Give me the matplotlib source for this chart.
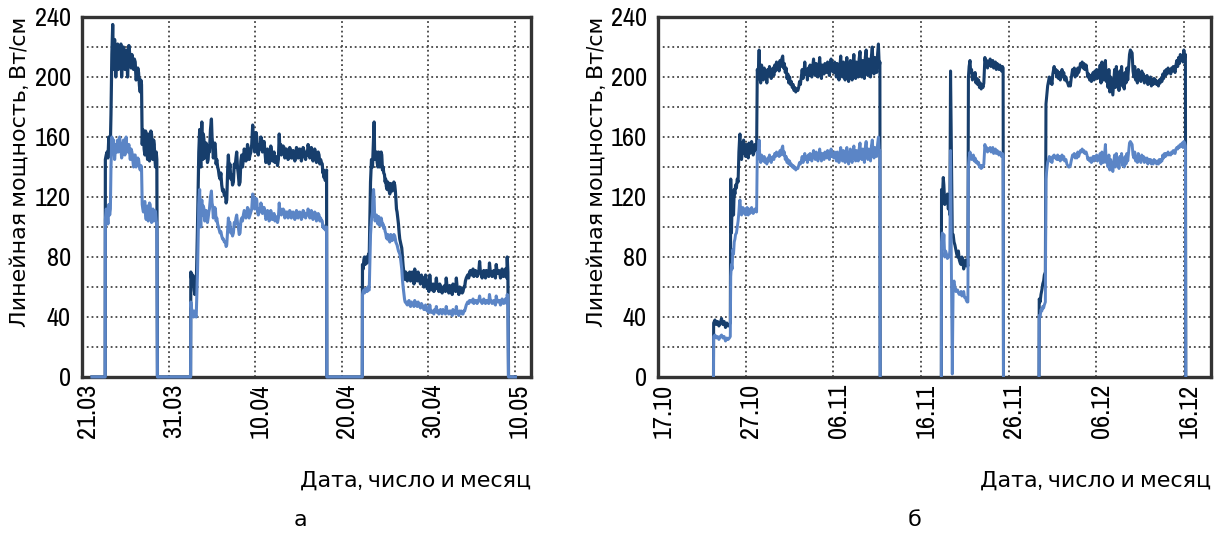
import numpy as np
import matplotlib
matplotlib.use('Agg')
import matplotlib.pyplot as plt
import matplotlib.font_manager as fm
import matplotlib.transforms as mtransforms
from matplotlib.ticker import MultipleLocator

# the reference uses a condensed sans; take a narrow face if one is installed
names = {f.name for f in fm.fontManager.ttflist}
narrow = [n for n in names if 'Narrow' in n or 'Condensed' in n]
if 'Liberation Sans Narrow' in names:
    family, tick_size, label_size = 'Liberation Sans Narrow', 20, 18
elif narrow:
    family, tick_size, label_size = sorted(narrow)[0], 19, 16
else:
    family, tick_size, label_size = 'Liberation Sans', 17, 16
plt.rcParams['font.family'] = [family, 'DejaVu Sans']
plt.rcParams['font.size'] = tick_size

# Days counted from the first tick (21.03 on the left chart, 17.10 on the right one)
left_ticks = [0, 10, 20, 30, 40, 50]
left_labels = ['21.03', '31.03', '10.04', '20.04', '30.04', '10.05']
right_ticks = [0, 10, 20, 30, 40, 50, 60]
right_labels = ['17.10', '27.10', '06.11', '16.11', '26.11', '06.12', '16.12']

# rows: (day, dark line W/cm, light line W/cm)
left_run1 = [
    (1.15, 0, 0), (2.68, 0, 0),
    (2.70, 145, 105), (2.80, 148, 112), (2.90, 150, 110), (3.00, 146, 102), (3.10, 160, 115),
    (3.20, 148, 108), (3.28, 156, 112), (3.35, 175, 140), (3.45, 215, 160), (3.55, 235, 150),
    (3.65, 205, 158), (3.77, 225, 145), (3.90, 200, 155), (4.04, 215, 150), (4.12, 222, 158),
    (4.20, 205, 150), (4.35, 218, 160), (4.50, 222, 152), (4.58, 200, 146), (4.65, 210, 148),
    (4.80, 220, 158), (4.96, 205, 148), (5.10, 218, 160), (5.20, 210, 152), (5.27, 200, 150),
    (5.42, 221, 155), (5.58, 212, 145), (5.68, 206, 152), (5.77, 215, 150), (5.96, 205, 140),
    (6.05, 212, 148), (6.15, 210, 148), (6.25, 198, 140), (6.35, 200, 142), (6.45, 206, 146),
    (6.54, 203, 145), (6.64, 194, 140), (6.73, 190, 138), (6.80, 198, 141), (6.88, 195, 140),
    (6.96, 155, 115), (7.03, 165, 112), (7.10, 162, 110), (7.18, 152, 116), (7.27, 148, 117),
    (7.35, 164, 108), (7.42, 160, 105), (7.50, 150, 112), (7.58, 145, 114), (7.65, 162, 104),
    (7.73, 158, 108), (7.80, 144, 116), (7.88, 150, 115), (7.96, 164, 106), (8.04, 162, 103),
    (8.12, 150, 110), (8.20, 145, 112), (8.28, 158, 104), (8.35, 155, 106), (8.42, 146, 111),
    (8.50, 140, 110), (8.58, 150, 104), (8.65, 145, 102), (8.72, 0, 0),
]
left_run2 = [
    (12.55, 0, 0),
    (12.58, 70, 50), (12.65, 66, 46), (12.73, 62, 44), (12.80, 68, 42), (12.90, 66, 40),
    (12.97, 58, 44), (13.04, 55, 42), (13.12, 60, 41), (13.20, 58, 40), (13.35, 100, 70),
    (13.50, 150, 115), (13.60, 165, 125), (13.66, 150, 108), (13.73, 140, 100), (13.80, 158, 112),
    (13.85, 170, 118), (13.90, 152, 110), (13.96, 145, 108), (14.03, 162, 114), (14.10, 158, 112),
    (14.18, 146, 104), (14.27, 148, 105), (14.35, 156, 111), (14.42, 152, 110), (14.50, 143, 103),
    (14.58, 145, 106), (14.66, 154, 110), (14.73, 150, 112), (14.85, 165, 120), (14.96, 172, 124),
    (15.03, 160, 116), (15.10, 155, 114), (15.18, 146, 106), (15.27, 150, 110), (15.35, 156, 113),
    (15.42, 152, 112), (15.50, 142, 104), (15.58, 145, 106), (15.68, 140, 102), (15.77, 138, 100),
    (15.86, 134, 98), (15.96, 132, 96), (16.05, 136, 97), (16.15, 128, 94), (16.25, 124, 92),
    (16.35, 125, 92), (16.45, 121, 90), (16.58, 122, 90), (16.66, 116, 87), (16.73, 118, 88),
    (16.85, 140, 100), (16.92, 148, 106), (17.00, 138, 102), (17.10, 142, 103), (17.20, 132, 96),
    (17.30, 135, 98), (17.40, 128, 94), (17.50, 130, 96), (17.60, 142, 103), (17.70, 140, 102),
    (17.80, 146, 106), (17.88, 150, 108), (17.97, 140, 103), (18.07, 135, 100), (18.17, 128, 95),
    (18.27, 130, 96), (18.36, 144, 104), (18.46, 148, 106), (18.55, 140, 104), (18.65, 145, 108),
    (18.75, 152, 111), (18.85, 150, 110), (18.95, 144, 106), (19.04, 147, 108), (19.13, 155, 113),
    (19.23, 152, 112), (19.32, 145, 106), (19.42, 148, 108), (19.52, 150, 110), (19.62, 155, 112),
    (19.73, 168, 122), (19.80, 160, 117), (19.88, 162, 120), (19.96, 150, 112), (20.04, 155, 114),
    (20.12, 163, 119), (20.20, 160, 118), (20.29, 150, 110), (20.38, 148, 108), (20.48, 155, 112),
    (20.58, 152, 110), (20.68, 160, 116), (20.77, 158, 114), (20.86, 150, 109), (20.96, 155, 112),
    (21.05, 157, 113), (21.15, 150, 110), (21.25, 143, 105), (21.35, 145, 106), (21.44, 152, 111),
    (21.54, 150, 110), (21.63, 142, 104), (21.73, 145, 105), (21.82, 154, 111), (21.92, 150, 108),
    (22.01, 144, 105), (22.10, 148, 107), (22.20, 150, 109), (22.30, 143, 104), (22.40, 147, 107),
    (22.50, 146, 106), (22.60, 141, 103), (22.70, 145, 106), (22.80, 162, 116), (22.88, 150, 109),
    (22.96, 155, 112), (23.05, 148, 108), (23.15, 150, 110), (23.25, 154, 112), (23.35, 153, 111),
    (23.44, 146, 106), (23.54, 148, 108), (23.63, 152, 110), (23.73, 150, 110), (23.82, 145, 106),
    (23.92, 147, 107), (24.01, 153, 111), (24.10, 151, 110), (24.20, 146, 106), (24.30, 146, 107),
    (24.40, 151, 110), (24.50, 150, 109), (24.60, 144, 105), (24.70, 148, 108), (24.79, 153, 111),
    (24.88, 152, 110), (24.98, 146, 106), (25.07, 147, 108), (25.17, 152, 110), (25.27, 150, 109),
    (25.36, 144, 105), (25.46, 148, 107), (25.56, 153, 111), (25.65, 151, 110), (25.75, 147, 107),
    (25.85, 145, 106), (25.94, 150, 109), (26.04, 148, 108), (26.13, 155, 112), (26.23, 152, 110),
    (26.33, 146, 106), (26.42, 148, 107), (26.51, 153, 111), (26.60, 150, 109), (26.70, 144, 105),
    (26.80, 147, 108), (26.90, 152, 110), (27.00, 149, 109), (27.10, 143, 104), (27.20, 146, 107),
    (27.30, 150, 109), (27.40, 148, 108), (27.49, 142, 104), (27.58, 145, 106), (27.68, 143, 104),
    (27.77, 142, 104), (27.84, 136, 100), (27.90, 138, 101), (27.97, 133, 99), (28.04, 136, 100),
    (28.12, 131, 98), (28.20, 135, 99), (28.27, 138, 100), (28.30, 0, 0),
]
left_run3 = [
    (32.40, 0, 0),
    (32.42, 75, 55), (32.50, 72, 57), (32.58, 78, 58), (32.65, 80, 56), (32.73, 75, 57),
    (32.80, 79, 59), (32.88, 80, 58), (32.96, 76, 57), (33.04, 77, 60), (33.12, 82, 58),
    (33.20, 80, 58), (33.35, 130, 95), (33.46, 145, 105), (33.58, 140, 110), (33.70, 160, 125),
    (33.77, 170, 118), (33.82, 150, 108), (33.88, 145, 104), (33.96, 148, 106), (34.04, 150, 108),
    (34.12, 143, 105), (34.20, 140, 102), (34.28, 150, 107), (34.35, 148, 106), (34.43, 140, 101),
    (34.50, 142, 104), (34.58, 150, 106), (34.65, 148, 104), (34.73, 138, 101), (34.80, 140, 102),
    (34.88, 136, 99), (34.96, 135, 100), (35.04, 130, 97), (35.10, 132, 96), (35.18, 127, 93),
    (35.27, 125, 92), (35.35, 130, 95), (35.42, 128, 94), (35.50, 124, 91), (35.58, 122, 90),
    (35.68, 129, 95), (35.77, 128, 94), (35.86, 124, 91), (35.96, 126, 92), (36.05, 130, 95),
    (36.15, 128, 94), (36.22, 124, 92), (36.27, 120, 90), (36.35, 112, 89), (36.42, 110, 88),
    (36.50, 106, 86), (36.58, 102, 84), (36.66, 96, 83), (36.73, 92, 82), (36.80, 90, 80),
    (36.88, 88, 76), (36.96, 86, 72), (37.04, 80, 65), (37.12, 74, 60), (37.20, 70, 56),
    (37.28, 66, 52), (37.35, 65, 50), (37.42, 70, 50), (37.50, 68, 49), (37.60, 64, 48),
    (37.70, 66, 50), (37.80, 69, 51), (37.88, 70, 48), (37.98, 64, 47), (38.08, 65, 50),
    (38.18, 70, 49), (38.27, 68, 48), (38.37, 62, 47), (38.46, 72, 51), (38.56, 66, 49),
    (38.65, 66, 48), (38.75, 64, 47), (38.85, 70, 50), (38.94, 66, 48), (39.04, 64, 47),
    (39.13, 62, 46), (39.23, 68, 49), (39.33, 65, 48), (39.42, 66, 47), (39.52, 60, 45),
    (39.62, 62, 45), (39.71, 68, 48), (39.80, 65, 47), (39.90, 59, 44), (40.00, 60, 45),
    (40.10, 57, 43), (40.20, 68, 48), (40.29, 61, 44), (40.38, 60, 43), (40.48, 58, 44),
    (40.58, 62, 44), (40.67, 57, 42), (40.77, 58, 45), (40.87, 61, 44), (40.96, 66, 47),
    (41.06, 59, 43), (41.15, 60, 44), (41.25, 57, 42), (41.35, 62, 44), (41.44, 60, 45),
    (41.54, 58, 43), (41.63, 56, 42), (41.73, 60, 45), (41.83, 58, 43), (41.92, 61, 44),
    (42.01, 57, 42), (42.10, 66, 47), (42.20, 60, 44), (42.30, 59, 43), (42.40, 56, 42),
    (42.50, 61, 44), (42.60, 59, 44), (42.70, 58, 43), (42.79, 55, 41), (42.88, 62, 45),
    (42.98, 58, 43), (43.08, 60, 44), (43.18, 57, 42), (43.27, 66, 47), (43.37, 59, 43),
    (43.46, 58, 43), (43.56, 55, 41), (43.65, 60, 44), (43.75, 58, 43), (43.85, 59, 44),
    (43.95, 56, 42), (44.04, 57, 42), (44.14, 60, 44), (44.23, 60, 44), (44.32, 64, 46),
    (44.42, 66, 48), (44.50, 67, 49), (44.58, 68, 50), (44.70, 66, 49), (44.80, 70, 51),
    (44.90, 71, 51), (45.00, 68, 50), (45.10, 70, 50), (45.20, 72, 52), (45.29, 67, 49),
    (45.38, 69, 50), (45.48, 71, 51), (45.58, 70, 51), (45.67, 67, 49), (45.77, 68, 50),
    (45.86, 70, 51), (45.96, 77, 54), (46.05, 70, 51), (46.15, 69, 50), (46.25, 66, 49),
    (46.35, 70, 51), (46.44, 71, 52), (46.54, 68, 50), (46.64, 66, 49), (46.73, 71, 51),
    (46.82, 70, 51), (46.92, 69, 50), (47.01, 67, 49), (47.10, 76, 55), (47.20, 70, 51),
    (47.30, 70, 51), (47.40, 67, 49), (47.50, 69, 50), (47.60, 71, 51), (47.70, 68, 49),
    (47.79, 66, 48), (47.88, 75, 54), (47.98, 70, 51), (48.08, 69, 50), (48.18, 71, 51),
    (48.27, 70, 51), (48.37, 66, 48), (48.46, 67, 49), (48.56, 72, 52), (48.65, 70, 51),
    (48.75, 67, 49), (48.85, 69, 50), (48.94, 72, 52), (49.04, 71, 52), (49.10, 66, 49),
    (49.15, 80, 55), (49.23, 70, 52), (49.30, 0, 0), (50.10, 0, 0),
]

right_run1 = [
    (6.33, 0, 0),
    (6.35, 36, 27), (6.50, 38, 28), (6.65, 35, 26), (6.80, 37, 27), (6.95, 34, 25),
    (7.10, 36, 27), (7.25, 39, 28), (7.40, 35, 26), (7.55, 37, 27), (7.70, 33, 24),
    (7.85, 36, 26), (8.00, 34, 25), (8.15, 35, 26), (8.25, 36, 27), (8.30, 132, 67),
    (8.38, 96, 75), (8.46, 115, 72), (8.54, 120, 85), (8.62, 108, 82), (8.70, 125, 90),
    (8.78, 122, 92), (8.85, 128, 95), (8.95, 126, 96), (9.04, 132, 100), (9.14, 130, 104),
    (9.23, 150, 110), (9.30, 158, 116), (9.35, 162, 118), (9.40, 150, 114), (9.46, 152, 112),
    (9.53, 145, 108), (9.60, 148, 110), (9.68, 156, 113), (9.77, 158, 111), (9.85, 149, 109),
    (9.92, 152, 112), (10.00, 147, 108), (10.08, 155, 110), (10.16, 152, 113), (10.23, 150, 111),
    (10.30, 146, 108), (10.38, 156, 112), (10.48, 149, 109), (10.58, 151, 110), (10.68, 157, 113),
    (10.77, 154, 111), (10.86, 148, 109), (10.96, 150, 110), (11.05, 155, 112), (11.15, 152, 111),
    (11.25, 151, 110), (11.33, 205, 150), (11.42, 200, 148), (11.54, 218, 158), (11.62, 200, 146),
    (11.72, 196, 143), (11.82, 208, 148), (11.92, 202, 145), (12.02, 198, 144), (12.12, 206, 147),
    (12.22, 200, 143), (12.32, 203, 145), (12.42, 196, 142), (12.52, 205, 146), (12.62, 201, 144),
    (12.72, 207, 148), (12.82, 202, 145), (12.92, 199, 143), (13.02, 204, 146), (13.12, 206, 147),
    (13.22, 201, 145), (13.32, 208, 149), (13.42, 204, 147), (13.52, 210, 150), (13.62, 206, 148),
    (13.72, 209, 149), (13.82, 204, 147), (13.92, 211, 151), (14.02, 207, 148), (14.12, 212, 152),
    (14.23, 214, 154), (14.32, 206, 148), (14.42, 209, 150), (14.52, 203, 145), (14.62, 206, 147),
    (14.72, 199, 143), (14.82, 202, 145), (14.92, 196, 142), (15.02, 200, 144), (15.12, 195, 141),
    (15.22, 197, 142), (15.32, 193, 140), (15.42, 195, 141), (15.52, 191, 139), (15.62, 193, 140),
    (15.72, 190, 138), (15.82, 192, 139), (15.96, 191, 139), (16.05, 193, 141), (16.15, 197, 143),
    (16.25, 195, 142), (16.35, 200, 144), (16.45, 205, 147), (16.55, 199, 143), (16.65, 203, 146),
    (16.75, 210, 149), (16.85, 202, 145), (16.95, 204, 147), (17.05, 198, 143), (17.15, 206, 148),
    (17.25, 201, 145), (17.35, 208, 149), (17.45, 203, 146), (17.55, 200, 144), (17.65, 207, 148),
    (17.75, 212, 151), (17.85, 204, 147), (17.95, 201, 145), (18.05, 209, 150), (18.15, 205, 147),
    (18.25, 200, 144), (18.35, 206, 148), (18.45, 213, 152), (18.55, 204, 147), (18.65, 199, 144),
    (18.75, 208, 149), (18.85, 205, 147), (18.95, 202, 145), (19.05, 209, 150), (19.15, 206, 148),
    (19.25, 203, 146), (19.35, 210, 151), (19.45, 207, 149), (19.55, 201, 145), (19.65, 206, 148),
    (19.75, 212, 152), (19.85, 204, 147), (19.95, 208, 149), (20.05, 203, 146), (20.15, 210, 150),
    (20.25, 206, 148), (20.35, 200, 144), (20.45, 209, 150), (20.55, 204, 147), (20.65, 198, 143),
    (20.75, 207, 149), (20.85, 214, 153), (20.95, 203, 146), (21.05, 200, 144), (21.15, 210, 151),
    (21.25, 205, 147), (21.35, 198, 143), (21.45, 208, 150), (21.55, 213, 153), (21.65, 201, 145),
    (21.75, 197, 142), (21.85, 206, 148), (21.95, 211, 152), (22.05, 202, 145), (22.15, 198, 143),
    (22.25, 209, 150), (22.35, 215, 154), (22.45, 203, 146), (22.55, 199, 144), (22.65, 210, 151),
    (22.75, 206, 148), (22.85, 200, 144), (22.95, 212, 152), (23.05, 217, 156), (23.15, 204, 147),
    (23.25, 200, 145), (23.35, 211, 152), (23.45, 207, 149), (23.55, 199, 143), (23.65, 213, 153),
    (23.75, 218, 157), (23.85, 205, 148), (23.95, 201, 145), (24.05, 212, 152), (24.15, 209, 150),
    (24.25, 200, 144), (24.35, 214, 154), (24.45, 220, 158), (24.55, 206, 149), (24.65, 202, 146),
    (24.75, 213, 153), (24.85, 210, 151), (24.95, 203, 147), (25.05, 215, 155), (25.15, 222, 160),
    (25.25, 207, 150), (25.32, 210, 151), (25.35, 0, 0),
]
right_run2 = [
    (32.33, 0, 0),
    (32.35, 125, 90), (32.45, 120, 96), (32.55, 133, 88), (32.62, 128, 95), (32.72, 115, 80),
    (32.82, 120, 84), (32.92, 118, 82), (33.02, 122, 79), (33.12, 112, 81), (33.22, 114, 80),
    (33.30, 108, 84), (33.38, 204, 151), (33.48, 150, 70), (33.58, 95, 2), (33.68, 95, 62),
    (33.78, 90, 64), (33.88, 88, 60), (33.98, 85, 57), (34.08, 82, 58), (34.18, 80, 58),
    (34.28, 84, 56), (34.38, 78, 55), (34.48, 76, 56), (34.58, 75, 57), (34.68, 80, 54),
    (34.78, 77, 55), (34.88, 72, 57), (34.98, 76, 53), (35.08, 78, 53), (35.18, 74, 51),
    (35.28, 76, 50), (35.36, 74, 50), (35.42, 200, 140), (35.50, 207, 146), (35.60, 211, 150),
    (35.68, 203, 147), (35.78, 205, 145), (35.88, 198, 146), (35.98, 202, 148), (36.08, 199, 144),
    (36.18, 203, 146), (36.28, 196, 143), (36.38, 199, 144), (36.48, 195, 142), (36.58, 198, 143),
    (36.68, 193, 140), (36.78, 196, 141), (36.88, 192, 139), (36.98, 195, 141), (37.08, 193, 140),
    (37.18, 196, 142), (37.30, 213, 155), (37.40, 209, 152), (37.50, 211, 153), (37.60, 206, 150),
    (37.70, 210, 152), (37.80, 208, 151), (37.90, 212, 153), (38.00, 207, 150), (38.10, 209, 152),
    (38.20, 211, 153), (38.30, 206, 149), (38.40, 208, 151), (38.50, 210, 152), (38.60, 205, 149),
    (38.70, 209, 151), (38.80, 207, 150), (38.90, 205, 148), (39.00, 208, 150), (39.10, 206, 149),
    (39.20, 204, 147), (39.30, 207, 149), (39.38, 206, 148), (39.42, 0, 0),
]
right_run3 = [
    (43.48, 0, 0),
    (43.50, 52, 41), (43.60, 50, 40), (43.70, 55, 45), (43.80, 58, 44), (43.90, 62, 47),
    (44.00, 64, 46), (44.08, 68, 48), (44.20, 70, 50), (44.27, 182, 132), (44.36, 188, 138),
    (44.46, 194, 143), (44.56, 197, 145), (44.65, 200, 147), (44.75, 196, 144), (44.85, 199, 146),
    (44.95, 195, 143), (45.05, 202, 147), (45.20, 207, 148), (45.30, 203, 146), (45.40, 205, 147),
    (45.50, 200, 145), (45.60, 204, 148), (45.70, 199, 145), (45.80, 203, 147), (45.90, 198, 144),
    (46.00, 202, 146), (46.10, 205, 148), (46.20, 200, 145), (46.30, 203, 147), (46.40, 198, 144),
    (46.55, 200, 145), (46.65, 197, 142), (46.75, 196, 141), (46.85, 194, 140), (46.95, 196, 140),
    (47.05, 194, 141), (47.15, 199, 144), (47.30, 205, 148), (47.40, 202, 147), (47.50, 206, 149),
    (47.60, 200, 146), (47.70, 204, 148), (47.80, 201, 146), (47.90, 206, 150), (48.00, 203, 147),
    (48.10, 205, 149), (48.20, 209, 151), (48.30, 207, 150), (48.40, 210, 152), (48.50, 206, 150),
    (48.60, 209, 151), (48.70, 205, 149), (48.85, 208, 150), (48.95, 204, 148), (49.05, 200, 145),
    (49.15, 202, 146), (49.25, 198, 144), (49.35, 201, 146), (49.45, 197, 143), (49.55, 200, 145),
    (49.65, 203, 147), (49.75, 198, 144), (49.85, 204, 147), (49.95, 201, 146), (50.05, 205, 148),
    (50.15, 199, 144), (50.25, 203, 147), (50.35, 200, 145), (50.45, 208, 149), (50.55, 196, 142),
    (50.65, 210, 150), (50.75, 200, 145), (50.85, 198, 143), (50.95, 206, 148), (51.05, 211, 155),
    (51.15, 197, 143), (51.25, 203, 147), (51.35, 193, 140), (51.45, 205, 148), (51.55, 190, 138),
    (51.65, 200, 145), (51.75, 195, 141), (51.90, 188, 137), (52.00, 197, 143), (52.10, 205, 148),
    (52.20, 193, 140), (52.30, 207, 149), (52.40, 195, 142), (52.50, 200, 145), (52.60, 191, 139),
    (52.70, 204, 147), (52.80, 198, 144), (52.90, 207, 149), (53.00, 194, 141), (53.10, 201, 145),
    (53.20, 192, 140), (53.30, 203, 147), (53.40, 196, 142), (53.50, 206, 149), (53.60, 198, 144),
    (53.80, 215, 156), (53.90, 218, 157), (54.00, 217, 156), (54.10, 216, 155), (54.20, 204, 148),
    (54.30, 200, 146), (54.40, 207, 150), (54.50, 198, 144), (54.60, 203, 147), (54.70, 196, 143),
    (54.80, 205, 149), (54.90, 199, 145), (55.00, 201, 146), (55.10, 197, 143), (55.20, 204, 148),
    (55.30, 199, 145), (55.40, 202, 147), (55.50, 196, 143), (55.60, 200, 146), (55.70, 198, 144),
    (55.80, 201, 146), (55.90, 195, 142), (56.00, 199, 145), (56.10, 196, 143), (56.20, 200, 145),
    (56.30, 194, 142), (56.40, 198, 144), (56.50, 195, 142), (56.60, 199, 145), (56.70, 196, 143),
    (56.80, 198, 144), (56.90, 195, 142), (57.00, 197, 144), (57.10, 194, 142), (57.20, 198, 145),
    (57.30, 196, 143), (57.40, 199, 145), (57.50, 197, 144), (57.60, 202, 148), (57.70, 199, 146),
    (57.80, 204, 149), (57.90, 201, 147), (58.00, 205, 149), (58.10, 202, 148), (58.20, 206, 150),
    (58.30, 203, 148), (58.40, 205, 149), (58.50, 202, 148), (58.60, 206, 150), (58.70, 204, 149),
    (58.80, 207, 151), (58.90, 205, 150), (59.00, 203, 149), (59.10, 208, 152), (59.20, 211, 153),
    (59.30, 207, 152), (59.40, 213, 154), (59.50, 209, 153), (59.60, 215, 155), (59.70, 211, 154),
    (59.80, 214, 156), (59.90, 210, 153), (60.00, 218, 157), (60.10, 213, 156), (60.18, 215, 154),
    (60.22, 0, 0),
]

dark_color = '#173e6c'
light_color = '#5b85c6'


def series(runs):
    # join the runs, a NaN row between them breaks the line
    rows = []
    for i, run in enumerate(runs):
        if i > 0:
            rows.append((np.nan, np.nan, np.nan))
        rows.extend(run)
    arr = np.array(rows, dtype=float)
    return arr[:, 0], arr[:, 1], arr[:, 2]


def style(ax, xmax, ticks, labels):
    ax.set_xlim(0, xmax)
    ax.set_ylim(0, 240)
    ax.set_xticks(ticks)
    ax.set_xticklabels(labels, rotation=90)
    ax.set_yticks(range(0, 241, 40))
    ax.yaxis.set_minor_locator(MultipleLocator(20))
    ax.grid(which='both', axis='y', linestyle=':', color='#444444', linewidth=1.3)
    ax.grid(which='major', axis='x', linestyle=':', color='#444444', linewidth=1.3)
    ax.tick_params(which='both', length=0)
    ax.tick_params(axis='y', pad=8)
    ax.tick_params(axis='x', pad=5)
    # the rotated dates sit a little to the right of their grid lines
    shift = mtransforms.ScaledTranslation(0.05, 0, ax.figure.dpi_scale_trans)
    for lab in ax.get_xticklabels():
        lab.set_transform(lab.get_transform() + shift)
    for s in ax.spines.values():
        s.set_color('#333333')
        s.set_linewidth(2.4)
    ax.set_axisbelow(True)


fig = plt.figure(figsize=(12.22, 5.33), dpi=100)
W, H = 1222, 533
ax1 = fig.add_axes([82 / W, 1 - 377 / H, 449 / W, 360 / H])
ax2 = fig.add_axes([658 / W, 1 - 377 / H, 553 / W, 360 / H])

# (a) spring run, zero line is visible between the runs
d, dk, lt = series([left_run1 + left_run2 + left_run3])
ax1.plot(d, dk, color=dark_color, lw=2.3, zorder=3)
ax1.plot(d, lt, color=light_color, lw=2.2, zorder=4, clip_on=False)
style(ax1, 51.9, left_ticks, left_labels)

# (b) autumn run, breaks between the runs
d, dk, lt = series([right_run1, right_run2, right_run3])
ax2.plot(d, dk, color=dark_color, lw=2.2, zorder=3)
ax2.plot(d, lt, color=light_color, lw=2.1, zorder=4)
style(ax2, 63.1, right_ticks, right_labels)

ylabel = 'Линейная мощность, Вт/см'
fig.text(20 / W, 1 - 17 / H, ylabel, rotation=90, ha='center', va='top', fontsize=label_size)
fig.text(597 / W, 1 - 17 / H, ylabel, rotation=90, ha='center', va='top', fontsize=label_size)
fig.text(531 / W, 1 - 481 / H, 'Дата, число и месяц', ha='right', va='center', fontsize=label_size)
fig.text(1211 / W, 1 - 481 / H, 'Дата, число и месяц', ha='right', va='center', fontsize=label_size)
fig.text(300 / W, 1 - 520 / H, 'а', ha='center', va='center', fontsize=label_size)
fig.text(915 / W, 1 - 520 / H, 'б', ha='center', va='center', fontsize=label_size)

fig.savefig('out.png', dpi=100)
